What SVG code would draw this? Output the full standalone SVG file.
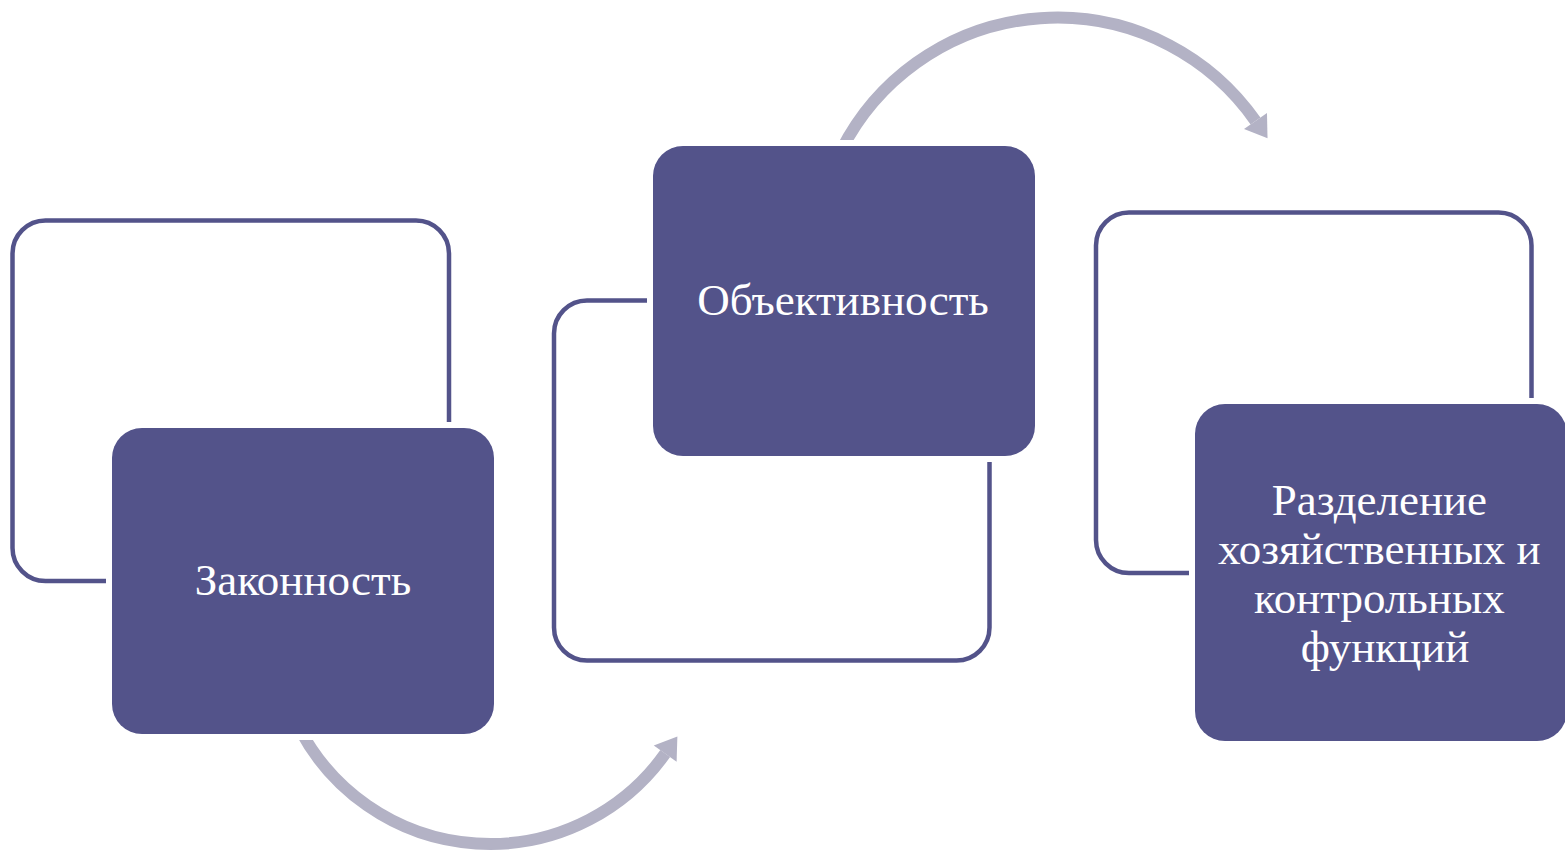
<svg xmlns="http://www.w3.org/2000/svg" width="1565" height="853" viewBox="0 0 1565 853">
  <style>
    .outline { fill: none; stroke: #53538A; stroke-width: 4.5; }
    .block { fill: #53538A; stroke: #FFFFFF; stroke-width: 12; paint-order: stroke fill; }
    .label { fill: #FFFFFF; font-family: "Liberation Serif", "Times New Roman", serif; font-size: 45px; text-anchor: middle; }
    .arc { fill: none; stroke: #B3B2C5; stroke-width: 12; }
  </style>
  <defs>
    <marker id="arrowhead" markerUnits="userSpaceOnUse" markerWidth="30" markerHeight="30" viewBox="0 -15 22 30" refX="0" refY="0" orient="auto">
      <path d="M0,-14 L21,0 L0,14 z" fill="#B3B2C5"/>
    </marker>
  </defs>
  <rect width="1565" height="853" fill="#FFFFFF"/>

  <g id="connectors">
    <path class="arc" d="M300.2,730 A215,215 0 0,0 665.2,753.6" marker-end="url(#arrowhead)"/>
    <path class="arc" d="M841.4,150 A242,242 0 0,1 1255.5,121" marker-end="url(#arrowhead)"/>
  </g>

  <g id="node-zakonnost">
    <rect class="outline" x="12.5" y="220.5" width="436.5" height="360.5" rx="33" ry="33"/>
    <rect class="block" x="112" y="428" width="382" height="306" rx="30" ry="30"/>
    <text class="label" x="303" y="595">Законность</text>
  </g>

  <g id="node-obektivnost">
    <rect class="outline" x="554" y="300.5" width="435.5" height="360" rx="33" ry="33"/>
    <rect class="block" x="653" y="146" width="382" height="310" rx="30" ry="30"/>
    <text class="label" x="843" y="315">Объективность</text>
  </g>

  <g id="node-razdelenie">
    <rect class="outline" x="1096" y="212.5" width="435.5" height="360.5" rx="33" ry="33"/>
    <rect class="block" x="1195" y="404" width="372" height="337" rx="30" ry="30"/>
    <text class="label" x="1385" y="515">
      <tspan x="1385" y="515">Разделение</tspan>
      <tspan x="1385" y="564">хозяйственных и</tspan>
      <tspan x="1385" y="613">контрольных</tspan>
      <tspan x="1385" y="662">функций</tspan>
    </text>
  </g>
</svg>
